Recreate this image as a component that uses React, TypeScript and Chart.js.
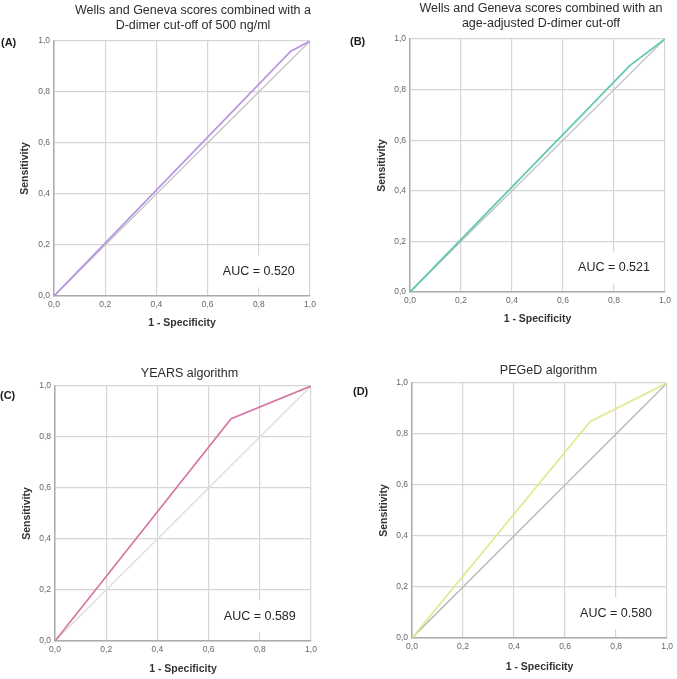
import React, { useEffect, useRef } from "react";
import { Chart, registerables } from "chart.js";

Chart.register(...registerables);

// ---- data ----
const tickValues = [0, 0.2, 0.4, 0.6, 0.8, 1.0];
const xAxisTitle = "1 - Specificity";
const yAxisTitle = "Sensitivity";

const refX = [0, 1];
const refY = [0, 1];

const fprA = [0, 0.925, 1];
const tprA = [0, 0.96, 1];
const fprB = [0, 0.862, 1];
const tprB = [0, 0.895, 1];
const fprC = [0, 0.688, 1];
const tprC = [0, 0.872, 1];
const fprD = [0, 0.698, 1];
const tprD = [0, 0.848, 1];

const panelLabels = ["(A)", "(B)", "(C)", "(D)"];
const titleA = ["Wells and Geneva scores combined with a", "D-dimer cut-off of 500 ng/ml"];
const titleB = ["Wells and Geneva scores combined with an", "age-adjusted D-dimer cut-off"];
const titleC = ["YEARS algorithm"];
const titleD = ["PEGeD algorithm"];
const aucLabels = ["AUC = 0.520", "AUC = 0.521", "AUC = 0.589", "AUC = 0.580"];

const FONT = "'Liberation Sans', Arial, sans-serif";

type Cfg = {
  left: number; top: number; w: number; h: number;
  plot: { left: number; right: number; top: number; bottom: number };
  fpr: number[]; tpr: number[]; color: string; refColor: string;
  title: string[]; titleX: number; titleY: number[];
  label: string; labelX: number; labelY: number;
  auc: string; xTitlePad: number; yTitlePad: number;
};

const panels: Cfg[] = [
  {
    left: 0, top: 0, w: 338, h: 340,
    plot: { left: 54, right: 310, top: 41, bottom: 296 },
    fpr: fprA, tpr: tprA, color: "#b793e3", refColor: "#c4c4c4",
    title: titleA, titleX: 193, titleY: [11, 26],
    label: panelLabels[0], labelX: 1, labelY: 43,
    auc: aucLabels[0], xTitlePad: 10.4, yTitlePad: 18.7,
  },
  {
    left: 338, top: 0, w: 339, h: 340,
    plot: { left: 72, right: 327, top: 39, bottom: 292 },
    fpr: fprB, tpr: tprB, color: "#5ec6b2", refColor: "#c4c4c4",
    title: titleB, titleX: 203, titleY: [9, 23.5],
    label: panelLabels[1], labelX: 12, labelY: 42,
    auc: aucLabels[1], xTitlePad: 14.4, yTitlePad: 37.7,
  },
  {
    left: 0, top: 340, w: 338, h: 339,
    plot: { left: 55, right: 311, top: 46, bottom: 301 },
    fpr: fprC, tpr: tprC, color: "#d576a6", refColor: "#dcdcdc",
    title: titleC, titleX: 189.5, titleY: [33.3],
    label: panelLabels[2], labelX: 0, labelY: 56,
    auc: aucLabels[2], xTitlePad: 3.4, yTitlePad: 20.4,
  },
  {
    left: 338, top: 340, w: 339, h: 339,
    plot: { left: 74, right: 330, top: 43, bottom: 298 },
    fpr: fprD, tpr: tprD, color: "#e6e690", refColor: "#b4b4b4",
    title: titleD, titleX: 210.5, titleY: [30.7],
    label: panelLabels[3], labelX: 15, labelY: 52,
    auc: aucLabels[3], xTitlePad: 6, yTitlePad: 40,
  },
];

const fmt = (v: number) => Number(v).toFixed(1).replace(".", ",");

function Panel({ cfg }: { cfg: Cfg }) {
  const ref = useRef<HTMLCanvasElement>(null);
  useEffect(() => {
    const canvas = ref.current!;
    const { w, h, plot } = cfg;
    const overlay = {
      id: "overlay",
      beforeDatasetsDraw(chart: any) {
        const ctx = chart.ctx;
        const xs = chart.scales.x;
        const ys = chart.scales.y;
        const cx = xs.getPixelForValue(0.8);
        const cy = ys.getPixelForValue(0.097);
        ctx.save();
        ctx.font = `12.5px ${FONT}`;
        const tw = ctx.measureText(cfg.auc).width;
        ctx.fillStyle = "#ffffff";
        ctx.fillRect(cx - tw / 2 - 10, cy - 16, tw + 20, 32);
        ctx.fillStyle = "#262626";
        ctx.textAlign = "center";
        ctx.textBaseline = "middle";
        ctx.fillText(cfg.auc, cx, cy);
        ctx.restore();
      },
      afterDraw(chart: any) {
        const ctx = chart.ctx;
        ctx.save();
        ctx.font = `12.5px ${FONT}`;
        ctx.fillStyle = "#2b2b2b";
        ctx.textAlign = "center";
        ctx.textBaseline = "middle";
        cfg.title.forEach((t, i) => ctx.fillText(t, cfg.titleX, cfg.titleY[i]));
        ctx.font = `bold 11px ${FONT}`;
        ctx.textAlign = "left";
        ctx.fillStyle = "#1a1a1a";
        ctx.fillText(cfg.label, cfg.labelX, cfg.labelY);
        ctx.restore();
      },
    };
    const tickFont = { family: FONT, size: 8.5 };
    const axisTitleFont = { family: FONT, size: 10.5, weight: "bold" as const };
    const chart = new Chart(canvas, {
      type: "scatter",
      data: {
        datasets: [
          {
            data: cfg.fpr.map((x, i) => ({ x, y: cfg.tpr[i] })),
            showLine: true,
            borderColor: cfg.color,
            borderWidth: 1.7,
            pointRadius: 0,
            order: 0,
          },
          {
            data: refX.map((x, i) => ({ x, y: refY[i] })),
            showLine: true,
            borderColor: cfg.refColor,
            borderWidth: 1.3,
            pointRadius: 0,
            order: 1,
          },
        ],
      },
      options: {
        responsive: false,
        animation: false,
        devicePixelRatio: 1,
        layout: { padding: { left: 0, top: plot.top, right: w - plot.right, bottom: 0 } },
        plugins: {
          legend: { display: false },
          tooltip: { enabled: false },
          title: { display: false },
        },
        scales: {
          x: {
            type: "linear",
            min: 0,
            max: 1,
            afterFit: (s: any) => { s.height = h - plot.bottom; },
            afterBuildTicks: (s: any) => { s.ticks = tickValues.map((v) => ({ value: v })); },
            ticks: {
              callback: (v: any) => fmt(v),
              font: tickFont,
              color: "#666666",
              padding: 4,
              maxRotation: 0,
              autoSkip: false,
            },
            grid: { color: "#d6d6d6", drawTicks: false, lineWidth: 1.2 },
            border: { color: "#ababab", width: 1.5 },
            title: {
              display: true,
              text: xAxisTitle,
              font: axisTitleFont,
              color: "#333333",
              padding: { top: 0, bottom: cfg.xTitlePad },
            },
          },
          y: {
            type: "linear",
            min: 0,
            max: 1,
            afterFit: (s: any) => { s.width = plot.left; },
            afterBuildTicks: (s: any) => { s.ticks = tickValues.map((v) => ({ value: v })); },
            ticks: {
              callback: (v: any) => fmt(v),
              font: tickFont,
              color: "#666666",
              padding: 4,
              autoSkip: false,
            },
            grid: { color: "#d6d6d6", drawTicks: false, lineWidth: 1.2 },
            border: { color: "#ababab", width: 1.5 },
            title: {
              display: true,
              text: yAxisTitle,
              font: axisTitleFont,
              color: "#333333",
              padding: { top: cfg.yTitlePad, bottom: 0 },
            },
          },
        },
      } as any,
      plugins: [overlay],
    });
    return () => chart.destroy();
  }, [cfg]);
  return (
    <canvas
      ref={ref}
      width={cfg.w}
      height={cfg.h}
      style={{ position: "absolute", left: cfg.left, top: cfg.top, width: cfg.w, height: cfg.h }}
    />
  );
}

export default function App() {
  return (
    <div
      style={{
        position: "fixed",
        left: 0,
        top: 0,
        width: 677,
        height: 679,
        background: "#ffffff",
        overflow: "hidden",
      }}
    >
      {panels.map((p, i) => (
        <Panel key={i} cfg={p} />
      ))}
    </div>
  );
}
